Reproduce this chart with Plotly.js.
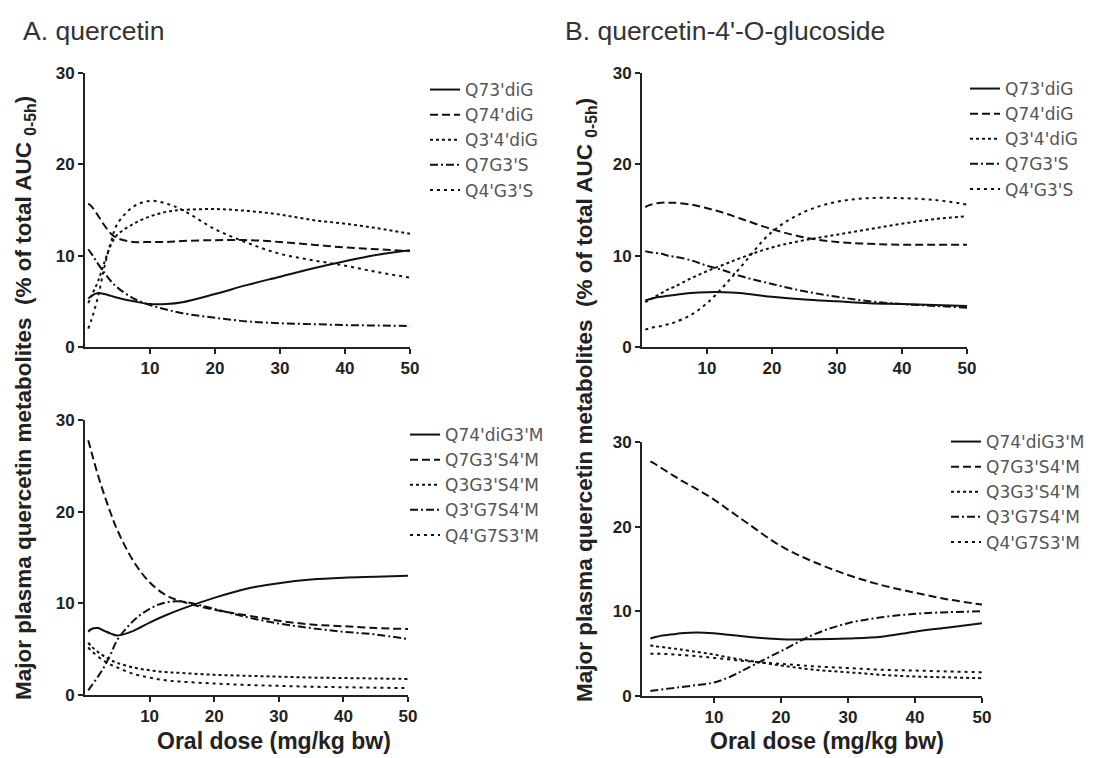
<!DOCTYPE html>
<html>
<head>
<meta charset="utf-8">
<script src="https://cdn.plot.ly/plotly-3.0.1.min.js"></script>
<style>html,body{margin:0;padding:0;background:#fff;}#chart{width:1099px;height:758px;}</style>
</head>
<body>
<div id="chart"></div>
<script>
// ---- data ----
const dose = [0.5, 1, 2, 3, 4, 5, 7.5, 10, 12.5, 15, 20, 25, 30, 35, 40, 45, 50];

const topNames = ["Q73'diG", "Q74'diG", "Q3'4'diG", "Q7G3'S", "Q4'G3'S"];
const bottomNames = ["Q74'diG3'M", "Q7G3'S4'M", "Q3G3'S4'M", "Q3'G7S4'M", "Q4'G7S3'M"];

// A. quercetin – glucuronides / sulfates
const A_Q73diG = [5.3, 5.6, 5.9, 5.8, 5.6, 5.4, 5.0, 4.7, 4.7, 4.9, 5.8, 6.8, 7.7, 8.6, 9.4, 10.1, 10.6];
const A_Q74diG = [15.7, 15.4, 14.4, 13.3, 12.4, 11.9, 11.5, 11.5, 11.5, 11.6, 11.7, 11.7, 11.5, 11.2, 10.9, 10.7, 10.5];
const A_Q34diG = [4.8, 5.6, 7.2, 9.3, 11.2, 12.3, 13.5, 14.3, 14.8, 15.0, 15.1, 14.9, 14.5, 13.9, 13.5, 13.0, 12.4];
const A_Q7G3S  = [10.7, 10.2, 9.1, 8.1, 7.2, 6.5, 5.3, 4.6, 4.1, 3.7, 3.2, 2.8, 2.6, 2.5, 2.4, 2.35, 2.3];
const A_Q4G3S  = [2.0, 3.0, 5.5, 8.8, 11.5, 13.5, 15.4, 16.0, 15.7, 15.0, 12.9, 11.4, 10.2, 9.5, 8.9, 8.2, 7.6];

// B. quercetin-4'-O-glucoside – glucuronides / sulfates
const B_Q73diG = [5.1, 5.2, 5.4, 5.5, 5.6, 5.7, 5.9, 6.0, 6.0, 5.9, 5.5, 5.2, 5.0, 4.8, 4.7, 4.6, 4.5];
const B_Q74diG = [15.3, 15.5, 15.7, 15.8, 15.8, 15.8, 15.6, 15.2, 14.7, 14.1, 12.9, 12.0, 11.5, 11.3, 11.2, 11.2, 11.2];
const B_Q34diG = [4.9, 5.1, 5.5, 5.9, 6.3, 6.6, 7.5, 8.3, 9.0, 9.7, 10.9, 11.7, 12.3, 12.9, 13.5, 14.0, 14.3];
const B_Q7G3S  = [10.5, 10.4, 10.3, 10.2, 10.0, 9.9, 9.5, 8.9, 8.4, 7.8, 6.9, 6.1, 5.5, 5.0, 4.7, 4.5, 4.3];
const B_Q4G3S  = [1.9, 2.0, 2.2, 2.3, 2.5, 2.7, 3.5, 4.8, 6.6, 8.6, 12.6, 14.8, 15.9, 16.3, 16.3, 16.1, 15.6];

// A. quercetin – methylated conjugates
const C_Q74diG3M = [6.9, 7.2, 7.3, 7.0, 6.7, 6.5, 7.0, 7.9, 8.7, 9.4, 10.6, 11.6, 12.2, 12.6, 12.8, 12.9, 13.0];
const C_Q7G3S4M  = [27.8, 26.5, 24.0, 21.8, 19.8, 18.0, 14.6, 12.3, 10.9, 10.2, 9.3, 8.7, 8.1, 7.7, 7.5, 7.3, 7.2];
const C_Q3G3S4M  = [5.7, 5.3, 4.7, 4.2, 3.8, 3.5, 3.0, 2.7, 2.5, 2.4, 2.2, 2.1, 2.0, 1.9, 1.85, 1.8, 1.75];
const C_Q3G7S4M  = [0.5, 1.0, 2.0, 3.1, 4.5, 6.0, 8.1, 9.4, 10.1, 10.2, 9.4, 8.5, 7.8, 7.3, 6.9, 6.6, 6.1];
const C_Q4G7S3M  = [5.2, 4.8, 4.2, 3.7, 3.3, 3.0, 2.3, 1.9, 1.6, 1.45, 1.25, 1.1, 1.0, 0.9, 0.85, 0.8, 0.75];

// B. quercetin-4'-O-glucoside – methylated conjugates
const D_Q74diG3M = [6.8, 6.9, 7.1, 7.2, 7.3, 7.4, 7.5, 7.4, 7.2, 7.0, 6.7, 6.7, 6.8, 7.0, 7.6, 8.1, 8.6];
const D_Q7G3S4M  = [27.7, 27.5, 27.0, 26.5, 26.0, 25.5, 24.4, 23.2, 21.8, 20.4, 17.7, 15.8, 14.3, 13.1, 12.2, 11.4, 10.8];
const D_Q3G3S4M  = [6.0, 5.9, 5.8, 5.7, 5.6, 5.5, 5.2, 4.9, 4.5, 4.2, 3.6, 3.1, 2.8, 2.5, 2.3, 2.2, 2.1];
const D_Q3G7S4M  = [0.6, 0.65, 0.75, 0.85, 0.95, 1.05, 1.3, 1.6, 2.3, 3.3, 5.3, 7.3, 8.6, 9.3, 9.7, 9.9, 10.0];
const D_Q4G7S3M  = [5.0, 5.0, 5.0, 4.95, 4.9, 4.85, 4.7, 4.5, 4.3, 4.1, 3.8, 3.5, 3.3, 3.1, 3.0, 2.9, 2.8];

const xTicks = [10, 20, 30, 40, 50];
const yTicks = [0, 10, 20, 30];

// ---- styling ----
const FONT = "Liberation Sans, Arial, Helvetica, sans-serif";
const LEGFONT = "DejaVu Sans, Liberation Sans, Arial, sans-serif";
const dashes = ["solid", "8px,4px", "3px,3px", "8px,3px,2px,3px", "3px,4px"];

function panel(seriesList, names, xa, ya, leg) {
  return seriesList.map((ys, i) => ({
    type: "scatter", mode: "lines",
    x: dose, y: ys, name: names[i],
    xaxis: xa, yaxis: ya, legend: leg,
    line: {color: "#111", width: 2, dash: dashes[i], shape: "spline", smoothing: 1}
  }));
}

const traces = [].concat(
  panel([A_Q73diG, A_Q74diG, A_Q34diG, A_Q7G3S, A_Q4G3S], topNames, "x", "y", "legend"),
  panel([B_Q73diG, B_Q74diG, B_Q34diG, B_Q7G3S, B_Q4G3S], topNames, "x2", "y2", "legend2"),
  panel([C_Q74diG3M, C_Q7G3S4M, C_Q3G3S4M, C_Q3G7S4M, C_Q4G7S3M], bottomNames, "x3", "y3", "legend3"),
  panel([D_Q74diG3M, D_Q7G3S4M, D_Q3G3S4M, D_Q3G7S4M, D_Q4G7S3M], bottomNames, "x4", "y4", "legend4")
);

const W = 1099, H = 758;
const px = v => v / W;
const py = v => (H - v) / H;

function xaxis(d0, d1, anchor, r0) {
  return {
    domain: [px(d0), px(d1)], anchor: anchor, range: [r0, 50],
    tickvals: xTicks, ticks: "outside", ticklen: 5, tickwidth: 2, tickcolor: "#222",
    showline: true, linecolor: "#222", linewidth: 2, showgrid: false, zeroline: false,
    tickfont: {family: FONT, size: 17, color: "#222", weight: "bold"}
  };
}
function yaxis(b, t, anchor) {
  return {
    domain: [py(b), py(t)], anchor: anchor, range: [0, 30],
    tickvals: yTicks, ticks: "outside", ticklen: 5, tickwidth: 2, tickcolor: "#222",
    showline: true, linecolor: "#222", linewidth: 2, showgrid: false, zeroline: false,
    tickfont: {family: FONT, size: 17, color: "#222", weight: "bold"}
  };
}
function legendAt(x, yTop) {
  return {
    x: px(x), y: py(yTop), xanchor: "left", yanchor: "top",
    bgcolor: "rgba(0,0,0,0)", borderwidth: 0, itemwidth: 30,
    font: {family: LEGFONT, size: 17, color: "#555"},
    tracegroupgap: 0, itemclick: false
  };
}

const yLabel = "Major plasma quercetin metabolites  (% of total AUC <sub>0-5h</sub>)";

const layout = {
  width: W, height: H,
  margin: {l: 0, r: 0, t: 0, b: 0},
  paper_bgcolor: "#fff", plot_bgcolor: "#fff",
  font: {family: FONT, color: "#222"},
  showlegend: true,
  xaxis:  xaxis(85, 410, "y", 0),
  yaxis:  yaxis(347, 73, "x"),
  xaxis2: xaxis(642, 967, "y2", 0),
  yaxis2: yaxis(347, 73, "x2"),
  xaxis3: xaxis(85, 408, "y3", 0),
  yaxis3: yaxis(695, 420, "x3"),
  xaxis4: xaxis(642, 982, "y4", -0.75),
  yaxis4: yaxis(696, 442, "x4"),
  legend:  legendAt(425, 72),
  legend2: legendAt(965, 71),
  legend3: legendAt(405, 417),
  legend4: legendAt(946, 424),
  annotations: [
    {text: "A. quercetin", x: px(21), y: py(31), xref: "paper", yref: "paper",
     xanchor: "left", yanchor: "middle", showarrow: false,
     font: {family: FONT, size: 26.5, color: "#333"}},
    {text: "B. quercetin-4'-O-glucoside", x: px(563), y: py(31), xref: "paper", yref: "paper",
     xanchor: "left", yanchor: "middle", showarrow: false,
     font: {family: FONT, size: 26.5, color: "#333"}},
    {text: yLabel, x: px(25), y: py(398), xref: "paper", yref: "paper", textangle: -90,
     xanchor: "center", yanchor: "middle", showarrow: false,
     font: {family: FONT, size: 22.5, color: "#222", weight: "bold"}},
    {text: yLabel, x: px(586), y: py(400), xref: "paper", yref: "paper", textangle: -90,
     xanchor: "center", yanchor: "middle", showarrow: false,
     font: {family: FONT, size: 22.5, color: "#222", weight: "bold"}},
    {text: "Oral dose (mg/kg bw)", x: px(274), y: py(741), xref: "paper", yref: "paper",
     xanchor: "center", yanchor: "middle", showarrow: false,
     font: {family: FONT, size: 23, color: "#222", weight: "bold"}},
    {text: "Oral dose (mg/kg bw)", x: px(827), y: py(741), xref: "paper", yref: "paper",
     xanchor: "center", yanchor: "middle", showarrow: false,
     font: {family: FONT, size: 23, color: "#222", weight: "bold"}}
  ]
};

Plotly.newPlot("chart", traces, layout, {displayModeBar: false, staticPlot: true});
</script>
</body>
</html>
